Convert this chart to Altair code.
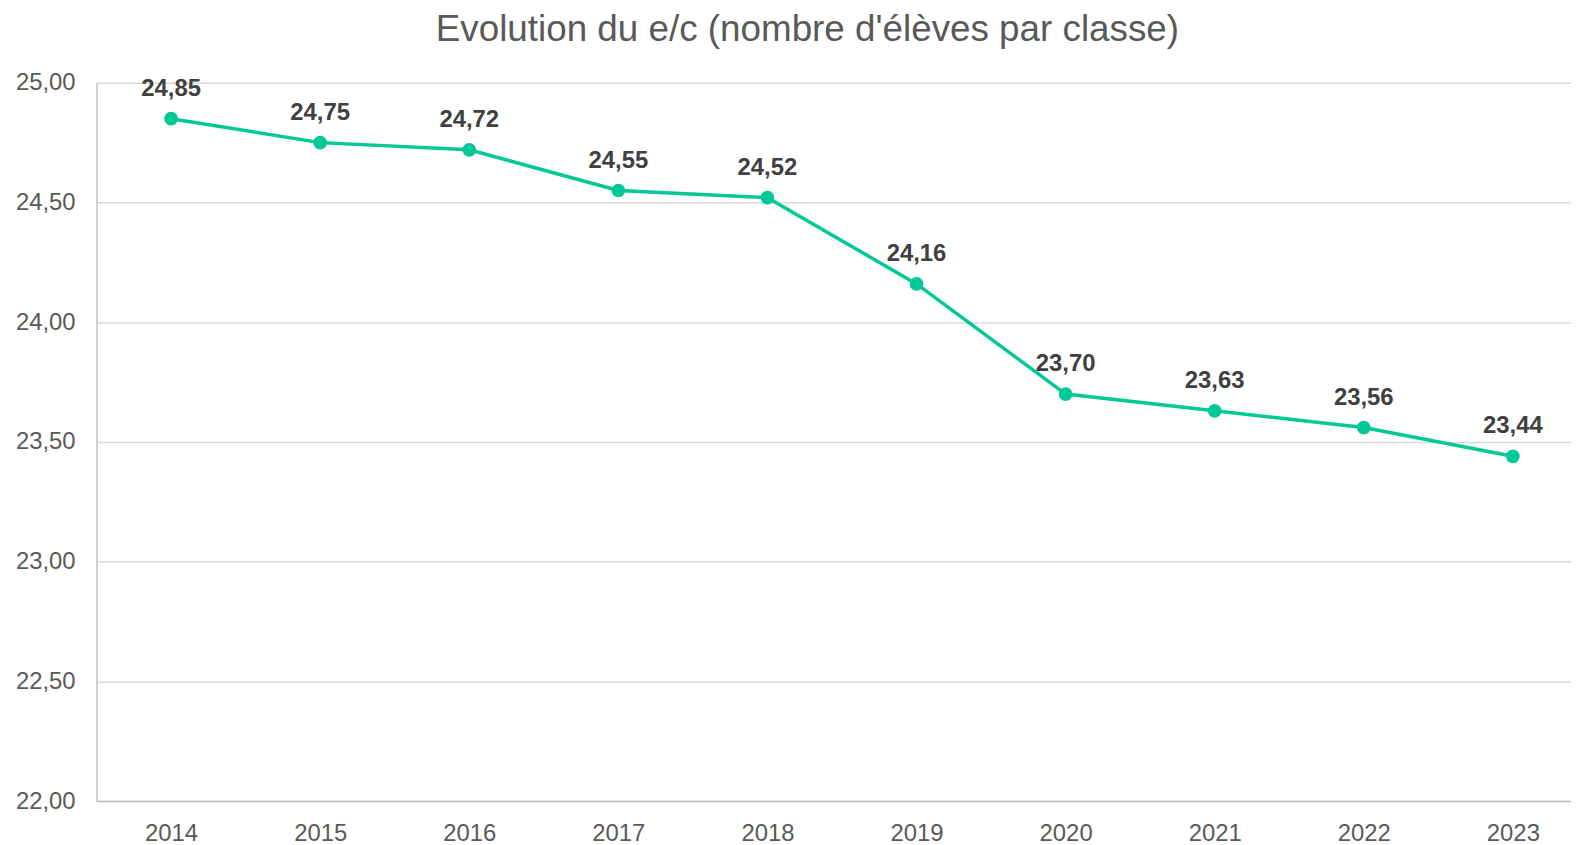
import altair as alt
import pandas as pd

years = [2014, 2015, 2016, 2017, 2018, 2019, 2020, 2021, 2022, 2023]
values = [24.85, 24.75, 24.72, 24.55, 24.52, 24.16, 23.70, 23.63, 23.56, 23.44]

df = pd.DataFrame({"annee": years, "ec": values})

FONT = "Liberation Sans"
GREEN = "#00C896"

x = alt.X("annee:Q", axis=alt.Axis(
    title=None, values=years, format="d", labelAngle=0, labelFontSize=24,
    labelColor="#595959", labelFont=FONT, labelPadding=21, ticks=False,
    domainColor="#BFBFBF", domainWidth=1.5, grid=False, labelFlush=False),
    scale=alt.Scale(domain=[2013.5, 2023.39], nice=False, zero=False))
y = alt.Y("ec:Q", scale=alt.Scale(domain=[22, 25], nice=False, zero=False), axis=alt.Axis(
    title=None, values=[22, 22.5, 23, 23.5, 24, 24.5, 25],
    labelExpr="replace(format(datum.value, '.2f'), '.', ',')",
    labelFontSize=24, labelColor="#595959", labelFont=FONT, labelPadding=21.5,
    ticks=False, domainColor="#BFBFBF", domainWidth=1.5,
    gridColor="#D9D9D9", gridWidth=1.5))

base = alt.Chart(df).encode(x=x, y=y)

line = base.mark_line(color=GREEN, strokeWidth=3.5, clip=False)
pts = base.mark_circle(color=GREEN, size=190, opacity=1)
labels = base.transform_calculate(
    lbl="replace(format(datum.ec, '.2f'), '.', ',')"
).mark_text(font=FONT, fontSize=24, fontWeight="bold", color="#404040",
            baseline="alphabetic", dy=-23).encode(text="lbl:N")

chart = (line + pts + labels).properties(
    width=1482, height=722,
    title=alt.TitleParams("Evolution du e/c (nombre d'élèves par classe)",
                          font=FONT, fontSize=37, fontWeight="normal", color="#595959",
                          anchor="middle", frame="group", dx=-26.5, offset=22),
    autosize=alt.AutoSizeParams(type="none"),
    padding={"left": 89, "top": 73, "right": 0, "bottom": 42},
).configure_view(stroke=None)

chart.save("out.html", embed_options={"renderer": "svg", "actions": False})
